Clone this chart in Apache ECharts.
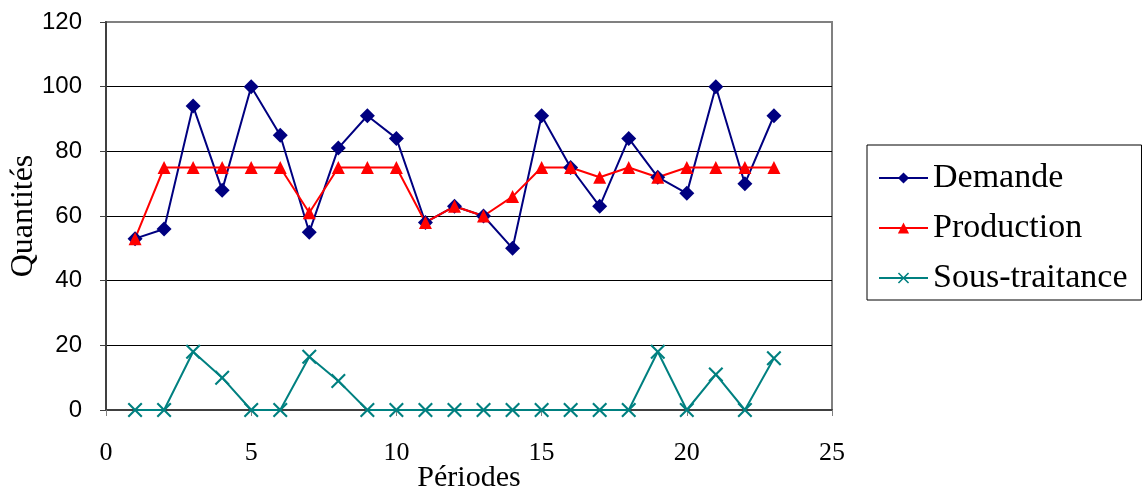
<!doctype html>
<html lang="fr">
<head>
    <meta charset="UTF-8">
    <title>Quantités par période</title>
    <style>
        *{margin: 0; padding: 0}
        #block{width: 1144px; height: 491px; background: #fff}
    </style>
</head>
<body>
<div id="block"></div>
<script src="https://cdn.jsdelivr.net/npm/echarts@6/dist/echarts.min.js"></script>
<script>
    // données
    const periodes = [1, 2, 3, 4, 5, 6, 7, 8, 9, 10, 11, 12, 13, 14, 15, 16, 17, 18, 19, 20, 21, 22, 23];
    const demande = [53, 56, 94, 68, 100, 85, 55, 81, 91, 84, 58, 63, 60, 50, 91, 75, 63, 84, 72, 67, 100, 70, 91];
    const production = [53, 75, 75, 75, 75, 75, 61, 75, 75, 75, 58, 63, 60, 66, 75, 75, 72, 75, 72, 75, 75, 75, 75];
    const sousTraitance = [0, 0, 18, 10, 0, 0, 16.5, 9, 0, 0, 0, 0, 0, 0, 0, 0, 0, 0, 18, 0, 11, 0, 16];

    const pairs = function(ys) {
        return periodes.map((x, i) => [x, ys[i]]);
    };

    const serif = 'Liberation Serif';
    const crossPath = 'path://M0,1L1,0L5,4L9,0L10,1L6,5L10,9L9,10L5,6L1,10L0,9L4,5Z';

    const chart = echarts.init(document.getElementById('block'));
    chart.setOption({
        animation: false,
        grid: {
            left: 106, right: 312, top: 22, bottom: 81,
            outerBoundsMode: 'none', containLabel: false,
            show: true, borderColor: '#808080', borderWidth: 2
        },
        xAxis: {
            type: 'value', min: 0, max: 25, interval: 5,
            name: 'Périodes', nameLocation: 'middle', nameGap: 53, nameMoveOverlap: false,
            nameTextStyle: {fontFamily: serif, fontSize: 30, color: '#000'},
            axisLine: {onZero: false, lineStyle: {color: '#404040', width: 2}},
            axisTick: {length: 6, lineStyle: {color: '#808080'}},
            axisLabel: {fontFamily: serif, fontSize: 26, color: '#000', margin: 30},
            splitLine: {show: false}
        },
        yAxis: {
            type: 'value', min: 0, max: 120, interval: 20,
            name: 'Quantités', nameLocation: 'middle', nameGap: 66, nameRotate: 90, nameMoveOverlap: false,
            nameTextStyle: {fontFamily: serif, fontSize: 32, color: '#000'},
            axisLine: {show: true, lineStyle: {color: '#404040', width: 2}},
            axisTick: {show: true, length: 6, lineStyle: {color: '#404040'}},
            axisLabel: {fontFamily: 'Liberation Sans', fontSize: 24, color: '#000', margin: 24},
            splitLine: {lineStyle: {color: ['#000', '#000', '#000', '#000', '#000', '#000', '#808080'], width: 1}}
        },
        legend: {
            orient: 'vertical', left: 867, top: 145,
            padding: [16, 14, 5, 11],
            itemWidth: 49, itemHeight: 14, itemGap: 16,
            borderColor: '#000', borderWidth: 1,
            textStyle: {fontFamily: serif, fontSize: 34, color: '#000', lineHeight: 33, padding: [0, 0, 0, 0]},
            data: ['Demande', 'Production', 'Sous-traitance']
        },
        series: [{
            name: 'Demande', type: 'line',
            data: pairs(demande),
            symbol: 'diamond', symbolSize: 15,
            lineStyle: {color: '#000080', width: 2},
            itemStyle: {color: '#000080'}
        }, {
            name: 'Production', type: 'line',
            data: pairs(production),
            symbol: 'triangle', symbolSize: 13,
            lineStyle: {color: '#ff0000', width: 2},
            itemStyle: {color: '#ff0000'}
        }, {
            name: 'Sous-traitance', type: 'line',
            data: pairs(sousTraitance),
            symbol: crossPath, symbolSize: 15,
            lineStyle: {color: '#008080', width: 2},
            itemStyle: {color: '#008080'}
        }]
    });
</script>
</body>
</html>
